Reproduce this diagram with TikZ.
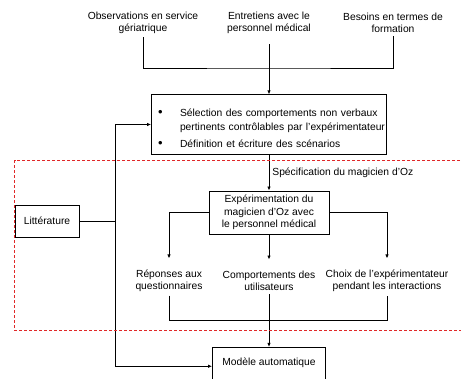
\documentclass[tikz,border=0pt]{standalone}
\usepackage{fontspec}
\setmainfont{Liberation Sans}
\usetikzlibrary{arrows.meta, positioning}
\definecolor{dashred}{RGB}{224,40,40}
\newcommand{\bigbullet}{\raisebox{-0.5pt}{\fontsize{13}{13}\selectfont\textbullet}}

\begin{document}
\begin{tikzpicture}[x=1pt, y=-1pt, >={Latex[length=4pt, width=3.4pt]},
    font=\fontsize{10.3}{12.5}\selectfont, line width=0.8pt,
    box/.style={draw, align=center, inner sep=3pt},
    txt/.style={align=center, inner sep=3pt}]

    \useasboundingbox (0,0) rectangle (461,379);
    \clip (0,0) rectangle (461,379);

    % the three sources on top:

    \node[txt] (obs) at (143,23) {Observations en service\\gériatrique};
    \node[txt] (ent) at (269,23) {Entretiens avec le\\personnel médical};
    \node[txt] (bes) at (393,23) {Besoins en termes de\\formation};

    % selection of the behaviours, with its two bullets:

    \node[box, minimum width=235pt, minimum height=53pt, text width=222pt,
        align=left, inner xsep=6.5pt] (sel) at (269,124.5)
        {\begin{tabular}{@{}p{22pt}@{}l@{}}
            \rule{0pt}{18.7pt}\bigbullet & Sélection des comportements non verbaux\\[1.5pt]
             & pertinents contrôlables par l'expérimentateur\\[4.5pt]
            \bigbullet & Définition et écriture des scénarios
        \end{tabular}};

    \node[box, minimum width=64pt, minimum height=32pt] (lit) at (47,221) {Littérature};

    % the wizard of Oz part:

    \node[box, minimum width=120pt, minimum height=43pt] (exp) at (269,212.5)
        {Expérimentation du\\magicien d'Oz avec\\le personnel médical};
    \node[txt] (rep) at (169,281) {Réponses aux\\questionnaires};
    \node[txt] (comp) at (269,281) {Comportements des\\utilisateurs};
    \node[txt] (cho) at (387,281) {Choix de l'expérimentateur\\pendant les interactions};

    \node[box, anchor=north, minimum width=113pt, inner sep=0pt,
        text height=17.7pt, text depth=20pt] (mod) at (269,347) {Modèle automatique};

    % joints of the lines:

    \coordinate (jtop) at (269,68);
    \coordinate (jlit) at (115,221);
    \coordinate (jbot) at (269,320.7);

    \draw (obs.south) |- (jtop) -| (bes.south);
    \draw[->, shorten <=7pt] (ent.south) -- (ent.south |- sel.north);

    \draw (lit.east) -- (jlit);
    \draw[->] (jlit) |- (sel.west);
    \draw[->] (jlit) |- (mod.west);

    \draw[->] (sel.south) -- node[right, inner sep=3pt] {Spécification du magicien d'Oz} (exp.north);

    \draw[->, shorten >=8pt] (exp.west) -| (rep.north);
    \draw[->, shorten >=8pt] (exp.south) -- (comp.north);
    \draw[->, shorten >=8pt] (exp.east) -| (cho.north);

    \draw (rep.south) |- (jbot) -| (cho.south);
    \draw[->] (comp.south) -- (comp.south |- mod.north);

    % red dashed frame, open on the right:
    \draw[dashred, dash pattern=on 3pt off 2pt, line width=0.7pt]
        (470,160.7) -- (14.7,160.7) -- (14.7,330.7) -- (470,330.7);
%
\end{tikzpicture}
\end{document}
